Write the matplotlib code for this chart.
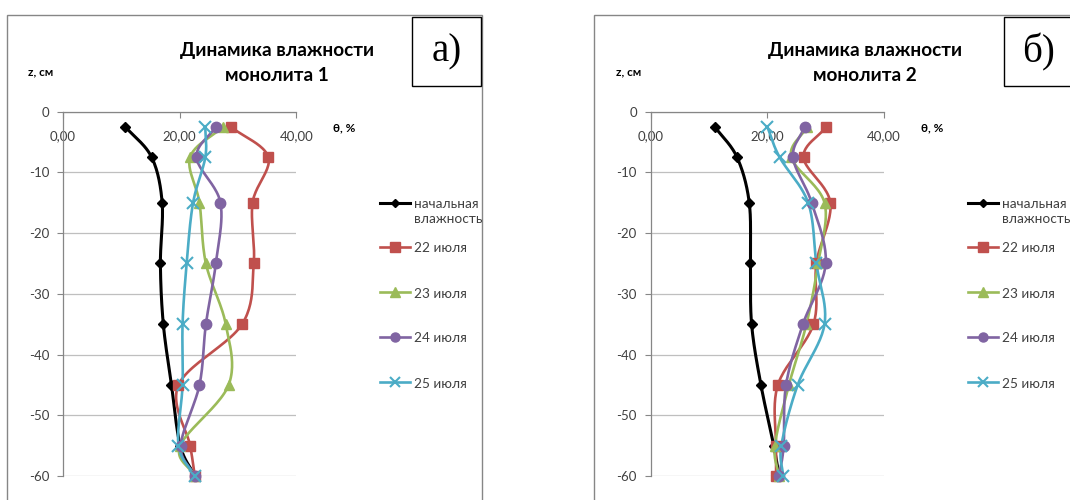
import numpy as np
import matplotlib
matplotlib.use("Agg")
import matplotlib.pyplot as plt
from matplotlib.patches import Rectangle
from matplotlib.lines import Line2D

plt.rcParams['axes.unicode_minus'] = False
plt.rcParams['font.family'] = ['Lato', 'DejaVu Sans']

# Depth of each sampling layer, cm
depth = [-2.5, -7.5, -15, -25, -35, -45, -55, -60]

# Monolith 1 moisture, %
m1_initial = [10.7, 15.2, 17.0, 16.7, 17.2, 18.6, 20.1, 22.6]
m1_jul22 = [28.8, 35.2, 32.5, 32.7, 30.7, 19.8, 21.8, 22.6]
m1_jul23 = [27.4, 21.8, 23.4, 24.5, 27.9, 28.4, 20.1, 22.6]
m1_jul24 = [26.2, 22.9, 27.0, 26.2, 24.5, 23.4, 20.2, 22.6]
m1_jul25 = [24.4, 24.4, 22.3, 21.2, 20.5, 20.5, 19.8, 22.6]

# Monolith 2 moisture, %
m2_initial = [11.0, 14.8, 16.9, 17.1, 17.3, 18.9, 21.1, 22.0]
m2_jul22 = [30.1, 26.2, 30.8, 28.4, 27.9, 21.8, 21.5, 21.5]
m2_jul23 = [26.8, 24.1, 29.8, 28.7, 26.7, 23.7, 21.3, 22.0]
m2_jul24 = [26.4, 24.4, 27.6, 30.0, 26.1, 23.2, 22.8, 22.0]
m2_jul25 = [20.0, 22.1, 27.0, 28.4, 29.8, 25.2, 22.4, 22.7]

series_labels = ["начальная\nвлажность", "22 июля", "23 июля", "24 июля", "25 июля"]
x_ticks = [0, 20, 40]
y_ticks = [0, -10, -20, -30, -40, -50, -60]
titles = ["Динамика влажности\nмонолита 1", "Динамика влажности\nмонолита 2"]
panel_tags = ["а)", "б)"]

styles = [
    dict(color="black", marker="D", ms=5.5, lw=2.2),
    dict(color="#C0504D", marker="s", ms=7.5, lw=1.9),
    dict(color="#9BBB59", marker="^", ms=7.5, lw=1.9),
    dict(color="#8064A2", marker="o", ms=7.5, lw=1.9),
    dict(color="#4BACC6", marker="x", ms=8, lw=1.9),
]

W, H = 1070, 500
fig = plt.figure(figsize=(W / 100, H / 100), dpi=100)
fig.patch.set_facecolor("white")


def fx(px):
    return px / W


def fy(py):
    return 1 - py / H


def smooth(xs, ys, n=24):
    """Catmull-Rom curve through the points (Excel-like smoothed line)."""
    pts = np.column_stack([xs, ys]).astype(float)
    p = np.vstack([2 * pts[0] - pts[1], pts, 2 * pts[-1] - pts[-2]])
    out = []
    t = np.linspace(0, 1, n, endpoint=False)[:, None]
    for i in range(1, len(p) - 2):
        p0, p1, p2, p3 = p[i - 1], p[i], p[i + 1], p[i + 2]
        seg = 0.5 * ((2 * p1) + (-p0 + p2) * t + (2 * p0 - 5 * p1 + 4 * p2 - p3) * t ** 2
                     + (-p0 + 3 * p1 - 3 * p2 + p3) * t ** 3)
        out.append(seg)
    out.append(pts[-1][None, :])
    c = np.vstack(out)
    return c[:, 0], c[:, 1]


def fmt_x(v):
    return f"{v:.2f}".replace(".", ",")


panels = [
    dict(left=63, frame_x=7, frame_w=475, tag_x=412,
         data=[m1_initial, m1_jul22, m1_jul23, m1_jul24, m1_jul25]),
    dict(left=650.7, frame_x=594, frame_w=520, tag_x=1004,
         data=[m2_initial, m2_jul22, m2_jul23, m2_jul24, m2_jul25]),
]

grid_c = "#BFBFBF"
axis_c = "#868686"
text_c = "#404040"

# vertical slots of the legend entries (first entry wraps onto two lines)
legend_top = 203
legend_step = 45
legend_wrap_extra = -1

for k, pnl in enumerate(panels):
    # chart frame
    fig.patches.append(Rectangle((fx(pnl["frame_x"]), fy(520)), pnl["frame_w"] / W, 505 / H,
                                 transform=fig.transFigure, fill=False,
                                 edgecolor=axis_c, lw=1.0, zorder=0))
    left = pnl["left"]
    ax = fig.add_axes([fx(left), fy(476), 233.3 / W, 364.3 / H])
    ax.set_xlim(0, 40)
    ax.set_ylim(-60, 0)
    for s in ["right", "bottom"]:
        ax.spines[s].set_visible(False)
    ax.spines["left"].set_color(axis_c)
    ax.spines["top"].set_color(axis_c)
    ax.spines["left"].set_linewidth(0.9)
    ax.spines["top"].set_linewidth(0.9)
    ax.set_yticks(y_ticks)
    ax.set_yticklabels([str(v) for v in y_ticks])
    ax.set_xticks(x_ticks)
    ax.set_xticklabels([fmt_x(v) for v in x_ticks])
    ax.tick_params(axis="y", length=4, color=axis_c, labelsize=9.5, labelcolor=text_c, pad=6)
    ax.tick_params(axis="x", top=True, labeltop=True, bottom=False, labelbottom=False,
                   direction="in", length=4, color=axis_c, labelsize=9.5,
                   labelcolor=text_c, pad=-22)
    ax.yaxis.grid(True, color=grid_c, lw=0.9)
    ax.set_axisbelow(True)

    for vals, st in zip(pnl["data"], styles):
        sx, sy = smooth(vals, depth)
        ax.plot(sx, sy, color=st["color"], lw=st["lw"], clip_on=False, zorder=3)
        ax.plot(vals, depth, ls="none", marker=st["marker"], ms=st["ms"], color=st["color"],
                mec=st["color"], mew=1.5 if st["marker"] == "x" else 1.0,
                clip_on=False, zorder=4)

    # title and axis captions
    fig.text(fx(left + 214), fy(63), titles[k], ha="center", va="center",
             fontsize=13.7, fontweight="bold", color="black", linespacing=1.55)
    fig.text(fx(left - 35), fy(72), "z, см", ha="left", va="center",
             fontsize=8.5, fontweight="bold", color="black")
    fig.text(fx(left + 270), fy(128), "θ, %", ha="left", va="center",
             fontsize=8.5, fontweight="bold", color="black")

    # panel tag box
    fig.patches.append(Rectangle((fx(pnl["tag_x"]), fy(86)), 69 / W, 69 / H,
                                 transform=fig.transFigure, facecolor="white",
                                 edgecolor="black", lw=1.0, zorder=5))
    fig.text(fx(pnl["tag_x"] + 34.5), fy(52), panel_tags[k], ha="center", va="center",
             fontsize=28, family="Liberation Serif", color="black", zorder=6)

    # legend: swatch line with marker, label to the right, first line of label level with swatch
    x0, x1 = left + 317, left + 347
    for i, (lab, st) in enumerate(zip(series_labels, styles)):
        yy = legend_top + legend_step * i + (legend_wrap_extra if i else 0)
        fig.add_artist(Line2D([fx(x0), fx(x1)], [fy(yy), fy(yy)], transform=fig.transFigure,
                              color=st["color"], lw=st["lw"]))
        fig.add_artist(Line2D([fx((x0 + x1) / 2)], [fy(yy)], transform=fig.transFigure,
                              ls="none", marker=st["marker"], ms=st["ms"] - 1,
                              color=st["color"],
                              mew=1.5 if st["marker"] == "x" else 1.0))
        fig.text(fx(x1 + 4), fy(yy - 4.5), lab, ha="left", va="top",
                 fontsize=9.8, color=text_c, linespacing=1.25, multialignment="left")

fig.savefig("out.png", dpi=100, facecolor="white")
